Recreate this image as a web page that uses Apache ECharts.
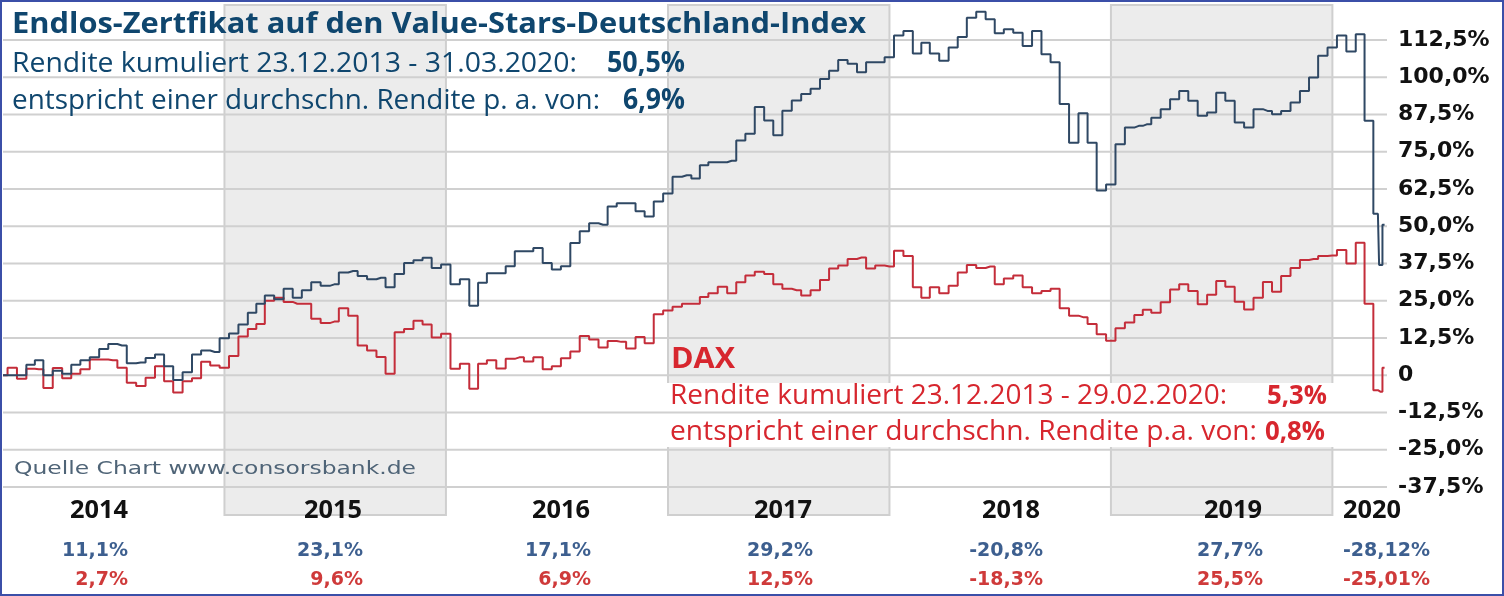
<!DOCTYPE html>
<html><head><meta charset="utf-8">
<script src="https://cdn.jsdelivr.net/npm/echarts@6/dist/echarts.min.js"></script>
<style>html,body{margin:0;padding:0;background:#fff}#c{width:1504px;height:596px}</style>
</head><body><div id="c"></div>
<script>
// ---- data ----
const sampleDates = [
 '2014-01-01','2014-01-16','2014-02-01','2014-02-16','2014-03-01','2014-03-16','2014-04-01','2014-04-16','2014-05-01','2014-05-16','2014-06-01','2014-06-16',
 '2014-07-01','2014-07-16','2014-08-01','2014-08-16','2014-09-01','2014-09-16','2014-10-01','2014-10-16','2014-11-01','2014-11-16','2014-12-01','2014-12-16',
 '2015-01-01','2015-01-16','2015-02-01','2015-02-16','2015-03-01','2015-03-16','2015-04-01','2015-04-16','2015-05-01','2015-05-16','2015-06-01','2015-06-16',
 '2015-07-01','2015-07-16','2015-08-01','2015-08-16','2015-09-01','2015-09-16','2015-10-01','2015-10-16','2015-11-01','2015-11-16','2015-12-01','2015-12-16',
 '2016-01-01','2016-01-16','2016-02-01','2016-02-16','2016-03-01','2016-03-16','2016-04-01','2016-04-16','2016-05-01','2016-05-16','2016-06-01','2016-06-16',
 '2016-07-01','2016-07-16','2016-08-01','2016-08-16','2016-09-01','2016-09-16','2016-10-01','2016-10-16','2016-11-01','2016-11-16','2016-12-01','2016-12-16',
 '2017-01-01','2017-01-16','2017-02-01','2017-02-16','2017-03-01','2017-03-16','2017-04-01','2017-04-16','2017-05-01','2017-05-16','2017-06-01','2017-06-16',
 '2017-07-01','2017-07-16','2017-08-01','2017-08-16','2017-09-01','2017-09-16','2017-10-01','2017-10-16','2017-11-01','2017-11-16','2017-12-01','2017-12-16',
 '2018-01-01','2018-01-16','2018-02-01','2018-02-16','2018-03-01','2018-03-16','2018-04-01','2018-04-16','2018-05-01','2018-05-16','2018-06-01','2018-06-16',
 '2018-07-01','2018-07-16','2018-08-01','2018-08-16','2018-09-01','2018-09-16','2018-10-01','2018-10-16','2018-11-01','2018-11-16','2018-12-01','2018-12-16',
 '2019-01-01','2019-01-16','2019-02-01','2019-02-16','2019-03-01','2019-03-16','2019-04-01','2019-04-16','2019-05-01','2019-05-16','2019-06-01','2019-06-16',
 '2019-07-01','2019-07-16','2019-08-01','2019-08-16','2019-09-01','2019-09-16','2019-10-01','2019-10-16','2019-11-01','2019-11-16','2019-12-01','2019-12-16',
 '2020-01-01','2020-01-16','2020-02-01','2020-02-16','2020-03-01','2020-03-16','2020-03-20','2020-03-27'
];
const valueStars = [
 0,0, 0,3.5, 5,0, 1.5,0.5, 3.5,5, 6,8.8, 10.5,10, 4,4.3, 5.8,7, 3,-1.6, 1,7, 8.3,7.8,
 12.4,14, 17,21, 24,26.8, 25.5,29, 26,28.5, 31.2,30, 30.5,34.5, 35,33.3, 32.2,32.7, 29.5,34, 37.7,38.6, 39.4,36,
 37.2,30.5, 32.2,23.3, 31,34.2, 34.2,36.6, 41.6,41.6, 42.7,37.7, 35.5,36.6, 44.4,48.3, 51,50.5, 56.6,57.7, 57.7,55, 53.3,58.3,
 61,66.6, 67.1,66, 70.5,71.5, 71.5,72, 78.8,81, 90,85.5, 80.5,88.8, 92.2,94.4, 96.1,99.4, 102.2,105.8, 104.5,101.7, 105,105,
 106.7,114, 115.5,108, 111.6,108, 105.5,110, 113.5,120, 122,119.5, 114.8,116.1, 114.9,110.5, 115.5,107.7, 105,91, 78,87.9, 78,62,
 64,77.5, 83.1,83.7, 84.2,86.4, 89.3,92.6, 95.4,92.1, 87.1,88.2, 94.8,92.1, 84.8,83.1, 89.3,88.7, 87.6,88.7, 91.5,95.4, 99.9,107.2,
 110,114, 108.6,114.4, 85.4,54.2, 37,50.5
];
const dax = [
 0,2.5, -1.2,2.2, 2,-4.3, 2.4,-1, 0.5,2, 5.3,5.3, 5,2.5, -2.5,-3.6, -0.8,3, -2,-5.8, -2,-1, 4.5,3.3,
 2.5,6.5, 13,15.5, 17.2,25, 26,24.6, 24,24, 19,17.5, 18,22.5, 20,10, 8.3,6.1, 0.5,14.4, 15.5,18.3, 17,12.7,
 13.9,2.2, 3.9,-4.5, 3.9,5, 2.3,5.5, 6,4.6, 6,2, 3,5.7, 8,13.2, 12,9.3, 11.5,11.2, 9,12.8, 10.7,20.5,
 21.7,23, 24,24, 26.3,27.5, 29.7,27.5, 31.2,33.5, 34.7,34, 30.5,29, 28.5,26.8, 28.5,32, 35.8,36.8, 39,39.5, 35.8,36.8,
 36.5,41.8, 40,29.5, 26,29.5, 27.5,30, 34.5,37, 36,36.5, 30.5,32.5, 33.5,29.5, 27.5,28.3, 29,22.5, 20,19.5, 17.2,13.8,
 11.6,15.8, 17.7,20.2, 22,21, 24.5,28.8, 30.5,28.3, 23.8,27, 31.6,29.7, 24.7,22.1, 26,31.3, 28,33.3, 36,38.7, 39,40,
 40.2,42, 37.5,44.5, 24,-5, -5.5,2.5
];
const shadedYears = [['2015-01-01','2016-01-01'],['2017-01-01','2018-01-01'],['2019-01-01','2020-01-01']];
const yearLabels = ['2014','2015','2016','2017','2018','2019','2020'];
const yearReturnsStars = ['11,1%','23,1%','17,1%','29,2%','-20,8%','27,7%','-28,12%'];
const yearReturnsDax = ['2,7%','9,6%','6,9%','12,5%','-18,3%','25,5%','-25,01%'];
const yTickValues = [-37.5, -25, -12.5, 0, 12.5, 25, 37.5, 50, 62.5, 75, 87.5, 100, 112.5];
const yRange = {min:-37.5, max:125, step:12.5};

// ---- helpers ----
function t(s){ const p = s.split('-').map(Number); return new Date(p[0], p[1]-1, p[2]).getTime(); }
const mctx = document.createElement('canvas').getContext('2d');
function txt(s, x, y, o){
  const font = (o.weight||'normal') + ' ' + o.size + 'px "' + o.family + '"';
  let sx = 1;
  if (o.w){ mctx.font = font; sx = o.w / mctx.measureText(s).width; }
  return {type:'text', x:x, y:y, scaleX:sx, z:o.z||50,
    style:{text:s, x:0, y:0, font:font, fill:o.color, align:o.align||'left', textAlign:o.align||'left',
           verticalAlign:'middle', textVerticalAlign:'middle'}};
}

const chart = echarts.init(document.getElementById('c'));
const X0 = t('2014-01-01'), X1 = t('2020-03-31');
const BLUE_TXT = '#0f466e', RED_TXT = '#d7262e';

const graphics = [
  {type:'rect', shape:{x:663, y:383, width:672, height:64}, style:{fill:'#ffffff'}, z:2},
  txt('Endlos-Zertfikat auf den Value-Stars-Deutschland-Index', 12, 25, {family:'Open Sans', weight:'bold', size:28, color:BLUE_TXT, w:854}),
  txt('Rendite kumuliert 23.12.2013 - 31.03.2020:', 12, 64, {family:'Open Sans', size:28, color:BLUE_TXT, w:565}),
  txt('50,5%', 685, 64, {family:'Open Sans', weight:'bold', size:28, color:BLUE_TXT, w:78, align:'right'}),
  txt('entspricht einer durchschn. Rendite p. a. von:', 12, 101, {family:'Open Sans', size:28, color:BLUE_TXT, w:588}),
  txt('6,9%', 685, 101, {family:'Open Sans', weight:'bold', size:28, color:BLUE_TXT, w:62, align:'right'}),
  txt('DAX', 671, 360, {family:'Open Sans', weight:'bold', size:29, color:RED_TXT, w:64}),
  txt('Rendite kumuliert 23.12.2013 - 29.02.2020:', 670, 396, {family:'Open Sans', size:27, color:RED_TXT, w:557}),
  txt('5,3%', 1327, 396, {family:'Open Sans', weight:'bold', size:27, color:RED_TXT, w:60, align:'right'}),
  txt('entspricht einer durchschn. Rendite p.a. von:', 670, 432, {family:'Open Sans', size:27, color:RED_TXT, w:587}),
  txt('0,8%', 1325, 432, {family:'Open Sans', weight:'bold', size:27, color:RED_TXT, w:60, align:'right'}),
  txt('Quelle Chart www.consorsbank.de', 14, 469, {family:'DejaVu Sans', size:18, color:'#4f6477', w:402}),
  {type:'rect', shape:{x:1, y:1, width:1502, height:594}, style:{fill:'none', stroke:'#3b4fa8', lineWidth:2}, z:100}
];
const yearRight = [128, 362, 590, 812, 1040, 1262, 1401];
const valRight = [128, 363, 591, 813, 1043, 1263, 1430];
yearLabels.forEach((s,i)=>graphics.push(txt(s, yearRight[i], 511, {family:'Open Sans', weight:'bold', size:25, color:'#111111', align:'right', w:58})));
yearReturnsStars.forEach((s,i)=>graphics.push(txt(s, valRight[i], 551, {family:'DejaVu Sans', weight:'bold', size:19, color:'#3d5f8f', align:'right'})));
yearReturnsDax.forEach((s,i)=>graphics.push(txt(s, valRight[i], 580, {family:'DejaVu Sans', weight:'bold', size:19, color:'#cf3a3a', align:'right'})));

const option = {
  animation:false,
  backgroundColor:'#ffffff',
  grid:[
    {left:3, right:117, top:2.75, bottom:109},
    {left:3, right:117, top:5, bottom:81}
  ],
  xAxis:[
    {type:'time', gridIndex:0, min:X0, max:X1, show:false},
    {type:'time', gridIndex:1, min:X0, max:X1, show:false}
  ],
  yAxis:[
    {type:'value', gridIndex:0, position:'right', min:yRange.min, max:yRange.max, interval:yRange.step,
     axisLine:{show:false}, axisTick:{show:false}, splitLine:{show:false},
     axisLabel:{color:'#111111', fontFamily:'DejaVu Sans', fontWeight:'bold', fontSize:22, margin:11,
       formatter:function(v){ if (v >= 124) return ''; if (v === 0) return '0'; return v.toFixed(1).replace('.', ',') + '%'; }}},
    {type:'value', gridIndex:1, min:0, max:1, show:false}
  ],
  graphic:graphics,
  series:[
    {type:'custom', xAxisIndex:1, yAxisIndex:1, z:1, silent:true, clip:false,
     data: shadedYears.map(r=>[t(r[0]), t(r[1])]),
     encode:{x:[0,1]},
     renderItem:function(params, api){
       const cs = params.coordSys;
       const xa = api.coord([api.value(0), 0])[0], xb = api.coord([api.value(1), 0])[0];
       return {type:'rect', shape:{x:xa, y:cs.y, width:xb-xa, height:cs.height},
               style:{fill:'#ececec', stroke:'#cfcfcf', lineWidth:2}};
     }},
    {type:'custom', xAxisIndex:0, yAxisIndex:0, z:5, silent:true, clip:false,
     data: yTickValues.map(v=>[X0, v]),
     encode:{x:0, y:1},
     renderItem:function(params, api){
       const cs = params.coordSys;
       const y = api.coord([api.value(0), api.value(1)])[1];
       return {type:'line', shape:{x1:cs.x, y1:y, x2:cs.x+cs.width, y2:y},
               style:{stroke:'#d0d0d0', lineWidth:2}};
     }},
    {name:'DAX', type:'line', step:'middle', showSymbol:false, z:10,
     data: sampleDates.map((d,i)=>[t(d), dax[i]]),
     lineStyle:{color:'#c42d3a', width:2}},
    {name:'Value-Stars', type:'line', step:'middle', showSymbol:false, z:11,
     data: sampleDates.map((d,i)=>[t(d), valueStars[i]]),
     lineStyle:{color:'#2f4864', width:2}}
  ]
};
chart.setOption(option);
</script>
</body></html>
